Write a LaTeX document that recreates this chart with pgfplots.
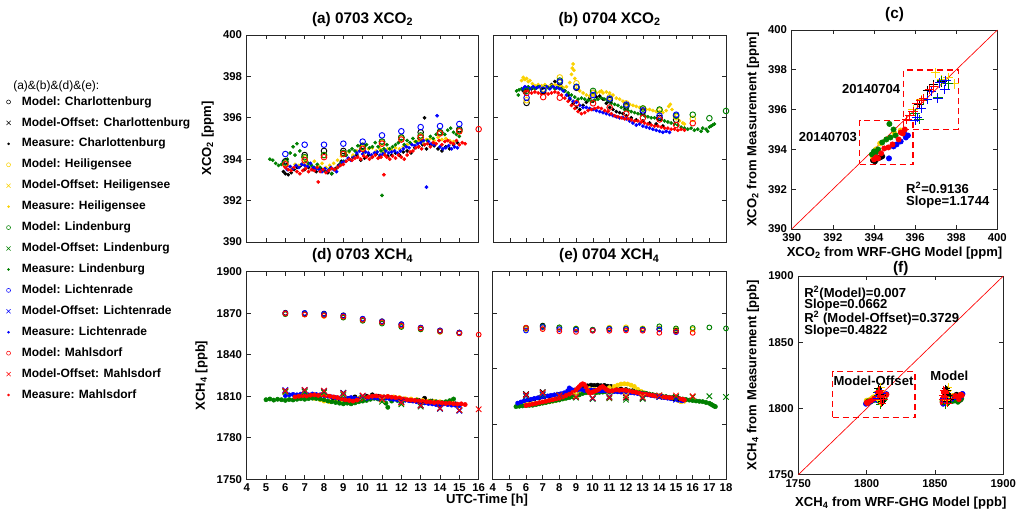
\documentclass[border=0pt]{standalone}
\usepackage{fontspec}
\setmainfont{Liberation Sans}
\usepackage{pgfplots}
\pgfplotsset{compat=1.18}

\definecolor{cK}{rgb}{0,0,0}
\definecolor{cY}{rgb}{0.98,0.82,0}
\definecolor{cG}{rgb}{0,0.5,0}
\definecolor{cB}{rgb}{0,0,1}
\definecolor{cR}{rgb}{1,0,0}

\newcommand\tickfont{\fontsize{8.5}{10}\selectfont\bfseries}
\newcommand\labfont{\fontsize{9.8}{11}\selectfont\bfseries}
\newcommand\titfont{\fontsize{11.5}{13}\selectfont\bfseries}
\newcommand\legfont{\fontsize{9}{10}\selectfont\bfseries}

\pgfplotsset{
  panel/.style={scale only axis, clip=false,
    axis line style={black!85, line width=0.6pt},
    tick style={black!85, line width=0.5pt},
    tick align=inside, major tick length=3.2pt,
    ticklabel style={font=\tickfont},
    /pgf/number format/assume math mode=true,
    /pgf/number format/1000 sep={},
    scaled ticks=false,
    title style={font=\titfont, yshift=-3pt},
    label style={font=\labfont}},
  meas/.style={only marks, mark=*, mark size=1.2pt, color=#1, forget plot},
  mod/.style={only marks, mark=o, mark size=2.1pt, mark options={line width=0.7pt}, color=#1, forget plot},
  off/.style={only marks, mark=x, mark size=2.9pt, mark options={line width=0.7pt}, color=#1, forget plot},
  dotc/.style={only marks, mark=*, mark size=2pt, color=#1, forget plot},
  plus/.style={only marks, mark=+, mark size=3.6pt, mark options={line width=0.7pt}, color=#1, forget plot},
  dbox/.style={draw=cR, line width=1pt, dash pattern=on 4.5pt off 3pt, forget plot},
}

\begin{document}
\begin{tikzpicture}
\path[use as bounding box] (0,0) rectangle (762pt,383.25pt);

% ---------------- (a) 0703 XCO2 ----------------
\begin{axis}[panel, at={(185pt,201.75pt)}, anchor=south west,
  width=174pt, height=155.25pt,
  xmin=4, xmax=16, ymin=390, ymax=400,
  xtick={4,5,...,16}, xticklabels={},
  ytick={390,392,...,400},
  ylabel={XCO\textsubscript{2} [ppm]},
  title={(a) 0703 XCO\textsubscript{2}},
  legend image code/.code={\path[draw=none, fill=none] (0pt,-2pt) rectangle (9pt,2pt); \draw[#1] plot coordinates {(4.5pt,0pt)};},
  legend cell align=left,
  legend style={draw=none, fill=none, inner sep=0pt, at={(-1.0534,0.7116)}, anchor=north west,
    font=\legfont, row sep=5.2pt, column sep=4.5pt,
    nodes={inner sep=1pt, text height=6.6pt, text depth=1.9pt}},
]
\addlegendimage{mark=o, mark size=1.5pt, cK}\addlegendentry{Model: Charlottenburg}
\addlegendimage{mark=x, mark size=2.2pt, cK}\addlegendentry{Model-Offset: Charlottenburg}
\addlegendimage{mark=*, mark size=0.75pt, cK}\addlegendentry{Measure: Charlottenburg}
\addlegendimage{mark=o, mark size=1.5pt, cY}\addlegendentry{Model: Heiligensee}
\addlegendimage{mark=x, mark size=2.2pt, cY}\addlegendentry{Model-Offset: Heiligensee}
\addlegendimage{mark=*, mark size=0.75pt, cY}\addlegendentry{Measure: Heiligensee}
\addlegendimage{mark=o, mark size=1.5pt, cG}\addlegendentry{Model: Lindenburg}
\addlegendimage{mark=x, mark size=2.2pt, cG}\addlegendentry{Model-Offset: Lindenburg}
\addlegendimage{mark=*, mark size=0.75pt, cG}\addlegendentry{Measure: Lindenburg}
\addlegendimage{mark=o, mark size=1.5pt, cB}\addlegendentry{Model: Lichtenrade}
\addlegendimage{mark=x, mark size=2.2pt, cB}\addlegendentry{Model-Offset: Lichtenrade}
\addlegendimage{mark=*, mark size=0.75pt, cB}\addlegendentry{Measure: Lichtenrade}
\addlegendimage{mark=o, mark size=1.5pt, cR}\addlegendentry{Model: Mahlsdorf}
\addlegendimage{mark=x, mark size=2.2pt, cR}\addlegendentry{Model-Offset: Mahlsdorf}
\addlegendimage{mark=*, mark size=0.75pt, cR}\addlegendentry{Measure: Mahlsdorf}

\addplot[meas=cK] coordinates {(5.9,393.4)(6.0,393.3)(6.15,393.25)(6.3,393.35)(6.45,393.5)(6.6,393.6)(6.8,393.7)(7.0,393.5)(7.2,393.6)(7.4,393.5)(7.6,393.4)(7.8,393.55)(8.0,393.45)(8.2,393.35)(8.4,393.3)(8.6,393.55)(8.75,393.7)(8.9,393.9)(9.1,394.2)(9.3,394.0)(9.5,394.1)(9.7,394.2)(9.9,393.95)(10.1,394.05)(10.3,394.2)(10.5,394.1)(10.7,394.25)(10.9,394.15)(11.1,394.3)(11.3,394.15)(11.5,394.2)(11.7,394.3)(11.9,394.2)(12.1,394.35)(12.3,394.4)(12.5,394.3)(12.7,394.55)(12.9,394.6)(13.1,394.7)(13.2,396.0)(13.3,394.5)(13.5,394.7)(13.7,394.65)(13.9,394.5)(14.1,394.4)(14.3,394.6)(14.5,394.5)(14.7,394.7)(14.9,394.8)};
\addplot[meas=cY] coordinates {(6.1,393.7)(6.3,393.6)(6.5,393.75)(6.7,393.7)(6.9,393.8)(7.1,393.7)(7.3,393.75)(7.5,393.9)(7.7,393.7)(7.9,393.8)(8.1,393.6)(8.3,393.7)(8.5,393.8)(8.7,393.95)(8.9,394.15)(9.1,394.3)(9.3,394.35)(9.5,394.2)(9.7,394.4)(9.9,394.45)(10.1,394.3)(10.3,394.5)(10.5,394.55)(10.7,394.4)(10.9,394.5)(11.1,394.4)(11.3,394.5)(11.5,394.45)(11.7,394.55)(11.9,394.5)(12.1,394.6)(12.3,394.7)(12.5,394.75)(12.7,394.85)(12.9,394.9)(13.1,394.8)(13.3,394.95)(13.5,395.0)(13.7,394.9)(13.9,395.05)(14.1,394.95)(14.3,395.0)(14.5,394.9)(14.7,394.85)};
\addplot[meas=cG] coordinates {(5.2,394.0)(5.35,393.95)(5.5,393.8)(5.65,393.7)(5.8,393.75)(5.95,393.9)(6.1,394.0)(6.25,394.3)(6.4,394.6)(6.5,394.2)(6.6,394.75)(6.75,394.4)(6.9,394.1)(7.05,393.9)(7.2,393.8)(7.35,393.7)(7.5,393.6)(7.65,393.75)(7.8,393.6)(7.95,393.5)(8.1,393.4)(8.25,393.5)(8.4,393.3)(8.55,393.5)(8.7,393.6)(8.85,393.8)(9.0,393.9)(9.15,394.2)(9.3,394.4)(9.45,394.5)(9.6,394.4)(9.75,394.65)(9.9,394.5)(10.05,394.4)(10.2,394.7)(10.35,394.55)(10.5,394.6)(10.65,394.8)(10.8,394.6)(10.95,394.4)(11.0,392.25)(11.1,394.5)(11.25,394.7)(11.4,394.5)(11.55,394.6)(11.7,394.7)(11.85,394.8)(12.0,394.9)(12.15,394.7)(12.3,394.9)(12.45,394.8)(12.6,395.0)(12.75,394.85)(12.9,395.0)(13.05,394.9)(13.2,394.7)(13.35,394.9)(13.5,395.1)(13.65,395.0)(13.8,395.2)(13.95,395.4)(14.1,395.3)(14.25,395.2)(14.4,395.4)(14.55,395.5)(14.7,395.3)(14.85,395.2)(15.0,395.1)};
\addplot[meas=cB] coordinates {(5.9,393.9)(6.0,393.7)(6.1,393.5)(6.25,393.65)(6.4,393.55)(6.55,393.7)(6.7,393.6)(6.85,393.75)(7.0,393.7)(7.15,393.65)(7.3,393.8)(7.45,393.6)(7.6,393.55)(7.75,393.5)(7.9,393.4)(8.05,393.55)(8.2,393.45)(8.35,393.6)(8.5,393.5)(8.65,393.4)(8.8,393.7)(8.95,393.85)(9.1,393.9)(9.25,394.05)(9.4,393.95)(9.55,394.1)(9.7,394.3)(9.85,394.4)(10.0,394.25)(10.15,394.35)(10.3,394.3)(10.45,394.2)(10.6,394.3)(10.75,394.35)(10.9,394.2)(11.05,394.25)(11.2,394.4)(11.35,394.3)(11.5,394.35)(11.65,394.4)(11.8,394.3)(11.95,394.4)(12.1,394.5)(12.25,394.6)(12.4,394.55)(12.55,394.7)(12.7,394.65)(12.85,394.75)(13.0,394.8)(13.15,394.9)(13.3,392.65)(13.4,394.85)(13.55,394.75)(13.7,394.7)(13.85,396.1)(14.0,394.6)(14.15,394.5)(14.3,394.55)(14.45,394.65)(14.6,394.5)(14.75,394.6)(14.9,394.55)};
\addplot[meas=cR] coordinates {(6.0,393.6)(6.15,393.5)(6.3,393.45)(6.45,393.6)(6.6,393.4)(6.75,393.3)(6.9,393.45)(7.05,393.55)(7.2,393.4)(7.35,393.5)(7.5,393.45)(7.65,393.6)(7.7,392.9)(7.8,393.4)(7.95,393.5)(8.1,393.35)(8.25,393.45)(8.4,393.55)(8.55,393.5)(8.7,393.6)(8.85,393.7)(9.0,393.75)(9.15,393.9)(9.3,394.0)(9.45,393.95)(9.6,394.05)(9.75,394.1)(9.9,394.0)(10.05,394.15)(10.2,394.1)(10.35,394.0)(10.5,394.1)(10.65,394.2)(10.8,394.05)(10.95,394.1)(11.1,393.25)(11.15,394.2)(11.25,394.1)(11.4,394.0)(11.55,394.15)(11.7,394.05)(11.85,394.2)(12.0,394.1)(12.15,394.0)(12.3,394.2)(12.45,394.35)(12.6,394.4)(12.75,394.55)(12.9,394.6)(13.05,394.5)(13.2,394.7)(13.35,394.75)(13.5,394.6)(13.65,394.8)(13.8,394.75)(13.95,394.9)(14.1,394.7)(14.25,394.85)(14.4,394.9)(14.55,394.8)(14.7,394.75)(14.85,394.9)(15.0,394.7)(15.15,394.8)(15.3,394.75)};
\addplot[mod=cK] coordinates {(6,393.9)(7,394.2)(8,394.4)(9,394.4)(10,394.65)(11,394.85)(12,395.05)(13,395.3)(14,395.3)(15,395.45)};
\addplot[mod=cY] coordinates {(6,393.8)(7,394.05)(8,394.2)(9,394.3)(10,394.55)(11,394.8)(12,395.0)(13,395.1)(14,395.25)(15,395.35)};
\addplot[mod=cG] coordinates {(6,393.85)(7,394.1)(8,394.2)(9,394.3)(10,394.6)(11,394.85)(12,395.05)(13,395.15)(14,395.3)(15,395.4)};
\addplot[mod=cB] coordinates {(6,394.25)(7,394.7)(8,394.7)(9,394.75)(10,394.85)(11,395.15)(12,395.35)(13,395.55)(14,395.6)(15,395.7)};
\addplot[mod=cR] coordinates {(6,393.75)(7,393.95)(8,394.1)(9,394.25)(10,394.5)(11,394.75)(12,394.95)(13,395.05)(14,395.25)(15,395.35)(16,395.45)};
\end{axis}

% ---------------- (b) 0704 XCO2 ----------------
\begin{axis}[panel, at={(370pt,201.75pt)}, anchor=south west,
  width=174.5pt, height=155.25pt,
  xmin=4, xmax=18, ymin=390, ymax=400,
  xtick={4,5,...,18}, xticklabels={},
  ytick={390,392,...,400}, yticklabels={},
  title={(b) 0704 XCO\textsubscript{2}},
]
\addplot[meas=cK] coordinates {(5.8,397.3)(5.9,397.2)(6.0,397.35)(6.3,397.4)(6.6,397.45)(6.9,397.4)(7.2,397.5)(7.5,397.6)(7.7,397.75)(7.9,397.6)(8.1,397.5)(8.3,397.3)(8.5,397.1)(8.6,396.9)(8.8,396.7)(9.0,396.5)(9.2,396.4)(9.4,396.6)(9.6,396.75)(9.8,396.95)(10.0,396.8)(10.2,397.0)(10.4,397.05)(10.6,396.9)(10.8,396.7)(11.0,396.5)(11.2,396.4)(11.4,396.3)(11.6,396.25)(11.8,396.2)(12.0,396.1)(12.3,396.0)(12.6,395.9)(13.0,395.85)(13.4,395.75)(13.8,395.7)(14.2,395.6)};
\addplot[meas=cY] coordinates {(5.7,397.8)(5.8,397.95)(5.9,397.85)(6.0,397.9)(6.1,397.75)(6.2,397.8)(6.35,397.65)(6.5,397.55)(6.7,397.6)(6.9,397.55)(7.1,397.6)(7.3,397.5)(7.5,397.55)(7.7,397.6)(7.9,397.6)(8.05,397.55)(8.2,397.45)(8.4,397.5)(8.6,397.7)(8.7,398.1)(8.75,398.4)(8.8,398.6)(8.85,398.3)(8.9,397.9)(9.0,397.4)(9.2,397.3)(9.4,397.2)(9.6,397.1)(9.8,397.05)(10.0,397.1)(10.2,397.2)(10.4,397.25)(10.5,397.3)(10.6,397.2)(10.8,397.25)(11.0,397.2)(11.2,397.1)(11.4,396.95)(11.6,396.9)(11.8,396.8)(12.0,396.7)(12.2,396.65)(12.4,396.6)(12.6,396.55)(12.8,396.5)(13.0,396.45)(13.2,396.4)(13.4,396.4)(13.6,396.35)(13.8,396.3)(14.0,396.3)(14.2,396.25)(14.4,396.35)(14.55,396.55)(14.65,396.65)(14.75,396.4)(14.9,396.1)(15.0,395.95)(15.2,395.85)(15.4,395.75)(15.5,395.7)};
\addplot[meas=cG] coordinates {(5.4,397.3)(5.5,397.1)(5.55,397.35)(5.7,397.4)(5.9,397.45)(6.1,397.5)(6.3,397.45)(6.5,397.4)(6.7,397.5)(6.9,397.45)(7.1,397.5)(7.3,397.45)(7.5,397.5)(7.7,397.4)(7.9,397.45)(8.1,397.4)(8.3,397.3)(8.5,397.2)(8.7,397.1)(8.9,397.0)(9.1,396.9)(9.3,396.95)(9.5,396.9)(9.7,396.85)(9.9,396.8)(10.1,396.85)(10.3,396.9)(10.5,396.95)(10.7,396.9)(10.9,396.8)(11.1,396.7)(11.3,396.65)(11.5,396.6)(11.7,396.5)(11.9,396.4)(12.1,396.35)(12.3,396.3)(12.5,396.25)(12.7,396.2)(12.9,396.15)(13.1,396.1)(13.3,396.05)(13.5,396.0)(13.7,396.0)(13.9,395.95)(14.1,395.9)(14.3,395.85)(14.5,395.8)(14.7,395.75)(14.9,395.7)(15.1,395.65)(15.3,395.55)(15.5,395.5)(15.7,395.45)(15.9,395.5)(16.1,395.4)(16.3,395.45)(16.5,395.35)(16.6,395.5)(16.8,395.45)(16.9,395.35)(17.0,395.55)(17.1,395.6)(17.2,395.65)(17.3,395.7)};
\addplot[meas=cB] coordinates {(5.8,397.4)(5.9,397.5)(6.0,397.45)(6.2,397.4)(6.4,397.5)(6.6,397.45)(6.8,397.5)(7.0,397.45)(7.2,397.5)(7.4,397.4)(7.6,397.5)(7.8,397.45)(8.0,397.4)(8.2,397.3)(8.4,397.1)(8.6,396.95)(8.8,396.8)(9.0,396.75)(9.2,396.6)(9.4,396.5)(9.6,396.5)(9.8,396.45)(10.0,396.4)(10.2,396.35)(10.4,396.3)(10.6,396.25)(10.8,396.2)(11.0,396.15)(11.2,396.1)(11.4,396.05)(11.6,396.0)(11.8,396.0)(12.0,395.95)(12.2,395.85)(12.4,395.75)(12.6,395.65)(12.8,395.7)(13.0,395.6)(13.2,395.55)(13.4,395.5)(13.6,395.45)(13.8,395.4)(14.0,395.35)(14.2,395.3)(14.4,395.35)(14.6,395.3)};
\addplot[meas=cR] coordinates {(5.9,397.25)(6.1,397.3)(6.3,397.2)(6.5,397.25)(6.7,397.2)(6.9,397.15)(7.1,397.2)(7.3,397.15)(7.5,397.2)(7.7,397.25)(7.9,397.2)(8.1,397.1)(8.3,396.95)(8.5,396.8)(8.7,396.6)(8.9,396.45)(9.1,396.3)(9.3,396.2)(9.5,396.25)(9.7,396.35)(9.9,396.4)(10.1,396.45)(10.3,396.5)(10.5,396.45)(10.7,396.35)(10.9,396.3)(11.1,396.2)(11.3,396.1)(11.5,396.05)(11.7,396.0)(11.9,395.95)(12.1,395.95)(12.3,395.9)(12.5,395.85)(12.7,395.85)(12.9,395.8)(13.1,395.75)(13.3,395.7)(13.5,395.65)(13.7,395.6)(13.9,395.6)(14.1,395.55)(14.3,395.5)(14.5,395.5)(14.7,395.45)(14.9,395.45)(15.1,395.4)(15.3,395.45)(15.5,395.4)};
\addplot[mod=cK] coordinates {(6,396.72)(7,397.3)(8,397.72)(9,397.45)(10,397.2)(11,396.85)(12,396.55)(13,396.3)(14,396.0)(15,395.9)};
\addplot[mod=cY] coordinates {(6,396.85)(7,397.4)(8,397.95)(9,397.67)(10,397.2)(11,397.0)(12,396.7)(13,396.45)(14,396.35)(15,396.05)(16,395.95)};
\addplot[mod=cG] coordinates {(6,397.3)(7,397.35)(8,397.8)(9,397.5)(10,397.3)(11,396.9)(12,396.6)(13,396.45)(14,396.4)(15,396.1)(16,396.15)(17,395.98)(18,396.33)};
\addplot[mod=cB] coordinates {(6,396.97)(7,397.35)(8,397.75)(9,397.48)(10,397.1)(11,396.93)(12,396.64)(13,396.36)(14,396.1)(15,396.15)};
\addplot[mod=cR] coordinates {(6,397.2)(7,397.0)(8,396.97)(9,396.7)(10,396.7)(11,396.5)(12,396.2)(13,396.0)(14,395.92)(15,395.65)(16,395.74)};
\end{axis}

% ---------------- (d) 0703 XCH4 ----------------
\begin{axis}[panel, at={(185pt,23.8pt)}, anchor=south west,
  width=174pt, height=155.7pt,
  xmin=4, xmax=16, ymin=1750, ymax=1900,
  xtick={4,5,...,16},
  ytick={1750,1780,...,1900},
  ylabel={XCH\textsubscript{4} [ppb]},
  title={(d) 0703 XCH\textsubscript{4}},
]
\addplot[meas=cK, mark size=1.6pt] coordinates {(8.5,1808)(8.8,1807)(9.0,1806)(9.3,1808.5)(9.6,1809.5)(9.9,1809)(10.2,1810)(10.5,1811)(10.8,1810)(11.1,1809.5)(11.5,1809)(12.0,1808)(12.5,1807.5)(12.9,1807)(13.2,1808.5)(13.6,1806.5)(14.0,1805.5)(14.4,1805)(14.8,1804.5)};
\addplot[meas=cY, mark size=1.6pt] coordinates {(7.5,1808.5)(7.8,1807.5)(8.0,1806.5)(8.3,1806)(8.6,1806.2)(8.9,1806.8)(9.2,1807.5)(9.5,1808)(9.8,1808.5)(10.1,1808.5)(10.4,1809.5)(10.7,1809)(11.0,1809.5)(11.3,1809.8)(11.6,1809.5)(11.9,1809)(12.2,1808.2)(12.5,1808)(12.8,1807.5)(13.1,1807)(13.4,1806.5)(13.7,1806.2)(14.0,1806)(14.3,1805.8)(14.6,1806.3)};
\addplot[meas=cG, mark size=1.6pt] coordinates {(5.0,1807.5)(5.2,1808)(5.4,1807.2)(5.6,1807.8)(5.8,1807.5)(6.0,1807)(6.2,1807.6)(6.4,1807.3)(6.6,1807.8)(6.8,1808.2)(7.0,1807.8)(7.2,1808.3)(7.4,1808.6)(7.6,1808.4)(7.8,1808.0)(8.0,1807.5)(8.2,1806.5)(8.4,1806)(8.6,1805.5)(8.8,1805)(9.0,1804.5)(9.2,1805)(9.4,1804.5)(9.6,1805.2)(9.8,1806)(10.0,1806.5)(10.2,1807)(10.4,1807.8)(10.6,1808.5)(10.8,1808)(11.0,1807)(11.2,1805)(11.3,1802)(11.5,1806.5)(11.8,1807)(12.0,1806)(12.2,1807.3)(12.5,1806.8)(12.8,1807.2)(13.0,1806)(13.2,1805.5)(13.5,1806.5)(13.8,1806)(14.1,1805.5)(14.3,1806)(14.5,1806.8)(14.7,1808)};
\addplot[meas=cB, mark size=1.6pt] coordinates {(6.0,1810.5)(6.2,1811)(6.4,1811.3)(6.6,1811)(6.8,1811.5)(7.0,1811.2)(7.2,1811)(7.4,1811.6)(7.6,1811.2)(7.8,1811)(8.0,1810.6)(8.2,1810)(8.4,1809.5)(8.6,1809)(8.8,1808.5)(9.0,1808)(9.2,1808.5)(9.4,1809)(9.6,1808.5)(9.8,1808)(10.0,1809)(10.2,1808.5)(10.4,1809.2)(10.6,1809)(10.8,1808.6)(11.0,1808.2)(11.2,1808.6)(11.4,1808.2)(11.6,1807.8)(11.8,1807.5)(12.0,1807)(12.2,1807.2)(12.4,1806.8)(12.6,1806.5)(12.8,1806)(13.0,1805.8)(13.2,1805.2)(13.4,1804.8)(13.6,1804.5)(13.8,1804)(14.0,1803.8)(14.2,1804.5)(14.4,1804)(14.6,1803.6)(14.8,1803.5)(15.0,1803.2)};
\addplot[meas=cR, mark size=1.6pt] coordinates {(6.5,1809.5)(6.7,1810)(6.9,1810.5)(7.1,1810.2)(7.3,1810.8)(7.5,1811)(7.7,1810.6)(7.9,1811)(8.1,1810.5)(8.3,1810)(8.5,1809.5)(8.7,1809)(8.9,1808.2)(9.1,1807.5)(9.3,1807)(9.5,1806.5)(9.7,1807.2)(9.9,1808)(10.1,1808.8)(10.3,1809.5)(10.5,1810)(10.7,1810.2)(10.9,1809.8)(11.1,1809.5)(11.3,1809.8)(11.5,1809.3)(11.7,1809)(11.9,1808.6)(12.1,1808)(12.3,1807.5)(12.5,1807.2)(12.7,1807)(12.9,1806.6)(13.1,1806.2)(13.3,1806)(13.5,1805.8)(13.7,1805.4)(13.9,1805.6)(14.1,1805.2)(14.3,1804.8)(14.5,1805)(14.7,1804.6)(14.9,1804.3)(15.1,1804.5)(15.3,1804)};
\addplot[mod=cK, mark size=1.8pt] coordinates {(6,1870.3)(7,1870)(8,1869.7)(9,1868.5)(10,1865.8)(11,1864.2)(12,1862)(13,1859.5)(14,1857.5)(15,1856)};
\addplot[mod=cY, mark size=1.8pt] coordinates {(6,1869.5)(7,1869)(8,1868)(9,1867)(10,1865)(11,1863)(12,1860.5)(13,1858.5)(14,1856.5)(15,1855.5)};
\addplot[mod=cG, mark size=1.8pt] coordinates {(6,1869.3)(7,1869.3)(8,1868.8)(9,1866.8)(10,1864.5)(11,1862.5)(12,1860)(13,1858.3)(14,1856.8)(15,1855.5)};
\addplot[mod=cB, mark size=1.8pt] coordinates {(6,1870)(7,1870.2)(8,1869.5)(9,1868.2)(10,1866)(11,1864)(12,1862)(13,1859.5)(14,1857.5)(15,1856)};
\addplot[mod=cR, mark size=1.8pt] coordinates {(6,1869.8)(7,1869)(8,1868.3)(9,1867.5)(10,1865.2)(11,1863.5)(12,1861)(13,1859)(14,1857)(15,1855.5)(16,1854.5)};
\addplot[off=cK] coordinates {(6,1814)(7,1814)(8,1813.5)(9,1812.5)(10,1810)(11,1808)(12,1806)(13,1803.5)(14,1801.5)(15,1800)};
\addplot[off=cY] coordinates {(6,1813)(7,1813.5)(8,1812.5)(9,1811.5)(10,1809.5)(11,1807.5)(12,1805)(13,1803)(14,1801)(15,1800)};
\addplot[off=cG] coordinates {(6,1813.2)(7,1813.2)(8,1812.8)(9,1810.8)(10,1808.5)(11,1806)(12,1804.2)(13,1802.5)(14,1801)(15,1799.8)};
\addplot[off=cB] coordinates {(6,1814.5)(7,1814.5)(8,1813.8)(9,1812.2)(10,1810)(11,1808)(12,1805.8)(13,1803.3)(14,1801)(15,1799.5)};
\addplot[off=cR] coordinates {(6,1814)(7,1814.6)(8,1814)(9,1812)(10,1810.5)(11,1808)(12,1805.5)(13,1803.3)(14,1801.3)(15,1800)(16,1800.6)};
\end{axis}

% ---------------- (e) 0704 XCH4 ----------------
\begin{axis}[panel, at={(369.5pt,23.8pt)}, anchor=south west,
  width=175pt, height=155.7pt,
  xmin=4, xmax=18, ymin=1750, ymax=1900,
  xtick={4,5,...,18},
  ytick={1750,1790,1830,1870}, yticklabels={},
  title={(e) 0704 XCH\textsubscript{4}},
]
\addplot[meas=cK, mark size=1.6pt] coordinates {(5.6,1804.5)(5.9,1806)(6.2,1807)(6.5,1808)(6.8,1809)(7.1,1809.5)(7.4,1810)(7.7,1810.8)(8.0,1811.4)(8.3,1812)(8.6,1813)(8.9,1814)(9.2,1815)(9.5,1816.5)(9.7,1817.5)(9.9,1818)(10.1,1817.8)(10.3,1818)(10.5,1817.6)(10.7,1817.8)(10.9,1817.2)(11.1,1817)(11.4,1816)(11.7,1815.2)(12.0,1814.8)(12.4,1814)(12.8,1813)(13.2,1812)(13.6,1811)(14.0,1810.2)(14.4,1809.6)(14.8,1809)(15.1,1808.3)};
\addplot[meas=cY, mark size=1.6pt] coordinates {(5.6,1803)(5.8,1803.6)(6.0,1804)(6.2,1804.2)(6.4,1804.5)(6.6,1804.6)(6.8,1805)(7.0,1805.2)(7.2,1805.6)(7.4,1806)(7.6,1806.5)(7.8,1807)(8.0,1807.5)(8.3,1808.5)(8.6,1810)(8.9,1811.5)(9.2,1813)(9.5,1814.5)(9.8,1815.5)(10.1,1815)(10.4,1815.2)(10.7,1815.8)(11.0,1816.2)(11.3,1817)(11.5,1818)(11.7,1818.8)(11.9,1819)(12.1,1818.8)(12.3,1818)(12.5,1817)(12.7,1815)(12.9,1813.5)(13.1,1812.5)(13.4,1811.6)(13.7,1810.8)(14.0,1810)(14.3,1809.5)(14.6,1808.8)(14.9,1808)(15.1,1807)(15.3,1806)(15.5,1806.4)};
\addplot[meas=cG, mark size=1.6pt] coordinates {(5.4,1802.5)(5.6,1802.8)(5.8,1803)(6.0,1803.2)(6.2,1803.4)(6.4,1803.5)(6.6,1804)(6.8,1804.5)(7.0,1805)(7.2,1805.5)(7.4,1806)(7.6,1806.5)(7.8,1807)(8.0,1807.3)(8.2,1808)(8.4,1808.5)(8.6,1809)(8.8,1809.5)(9.0,1810)(9.2,1811)(9.4,1812)(9.6,1812.5)(9.8,1813)(10.0,1812.8)(10.2,1812.5)(10.4,1812.8)(10.6,1813)(10.8,1813.2)(11.0,1813)(11.2,1813.5)(11.4,1813.8)(11.6,1814)(11.8,1814.2)(12.0,1814.4)(12.2,1814)(12.4,1813.5)(12.6,1813)(12.8,1812.6)(13.0,1812.4)(13.2,1812)(13.4,1811.5)(13.6,1811)(13.8,1810.5)(14.0,1810)(14.2,1809.8)(14.4,1809.5)(14.6,1809.2)(14.8,1809)(15.0,1808.6)(15.2,1808.3)(15.4,1808)(15.6,1807.6)(15.8,1807.2)(16.0,1806.9)(16.2,1806.6)(16.4,1806.3)(16.6,1806.1)(16.8,1805.5)(17.0,1804.9)(17.1,1804.2)(17.2,1803.5)(17.3,1802.8)(17.36,1802.5)};
\addplot[meas=cB, mark size=1.6pt] coordinates {(5.5,1805)(5.7,1805.8)(5.9,1806.8)(6.1,1807.4)(6.3,1807.8)(6.5,1808.4)(6.7,1808.8)(6.9,1809.4)(7.1,1809.8)(7.3,1810.2)(7.5,1810.6)(7.7,1811)(7.9,1811.4)(8.1,1811.8)(8.3,1812.5)(8.5,1814)(8.6,1816)(8.7,1815)(8.9,1814.5)(9.1,1814.5)(9.3,1815)(9.5,1814.2)(9.7,1814)(9.9,1814.5)(10.1,1814.3)(10.3,1814)(10.5,1813.8)(10.7,1814)(10.9,1813.7)(11.1,1813.6)(11.3,1813.4)(11.5,1813.2)(11.7,1813)(11.9,1812.8)(12.1,1812.6)(12.3,1812.5)(12.5,1812.3)(12.7,1812)(12.9,1811.8)(13.1,1811.5)(13.3,1811)(13.5,1810.6)(13.7,1810.2)(13.9,1809.8)(14.1,1809.4)(14.3,1809)(14.5,1808.6)(14.7,1808.2)(14.9,1807.8)(15.1,1807.4)(15.3,1807)(15.4,1806.8)};
\addplot[meas=cR, mark size=1.6pt] coordinates {(6.0,1803.3)(6.2,1803.8)(6.4,1804.3)(6.6,1804.8)(6.8,1805.4)(7.0,1805.9)(7.2,1806.4)(7.4,1807)(7.6,1807.5)(7.8,1808.1)(8.0,1808.6)(8.2,1809.5)(8.4,1810.5)(8.6,1811.5)(8.8,1812.8)(9.0,1814.5)(9.1,1815.8)(9.2,1817)(9.3,1818.3)(9.4,1819)(9.5,1818.5)(9.6,1816.5)(9.7,1814)(9.8,1812.4)(9.9,1812.6)(10.0,1813)(10.1,1813.5)(10.2,1814)(10.3,1814.5)(10.4,1815.5)(10.5,1816.5)(10.6,1817)(10.7,1816)(10.8,1815)(10.9,1814.2)(11.0,1813.7)(11.2,1814)(11.4,1814.6)(11.6,1814.3)(11.8,1814.5)(12.0,1814.2)(12.2,1813.8)(12.4,1813.2)(12.6,1812.8)(12.8,1812.2)(13.0,1811.6)(13.2,1811.4)(13.4,1811)(13.6,1810.6)(13.8,1810.2)(14.0,1809.6)(14.2,1809.5)(14.4,1809.2)(14.6,1809)(14.8,1808.8)(15.0,1808.6)(15.2,1808.2)(15.4,1807.8)(15.5,1807.3)};
\addplot[mod=cK, mark size=1.8pt] coordinates {(6,1859)(7,1861)(8,1859.5)(9,1858.5)(10,1858)(11,1859)(12,1858.8)(13,1858.5)(14,1858.5)(15,1857.5)};
\addplot[mod=cY, mark size=1.8pt] coordinates {(6,1858.5)(7,1859.5)(8,1859.3)(9,1859)(10,1857.8)(11,1859.5)(12,1859.8)(13,1859)(14,1859)(15,1858.5)(16,1858.3)};
\addplot[mod=cG, mark size=1.8pt] coordinates {(6,1859.5)(7,1860.5)(8,1859.8)(9,1858.8)(10,1858)(11,1858.8)(12,1858.8)(13,1858.5)(14,1860.5)(15,1859)(16,1859.3)(17,1859.7)(18,1859)};
\addplot[mod=cB, mark size=1.8pt] coordinates {(6,1857.5)(7,1860)(8,1858.5)(9,1858)(10,1857.5)(11,1858.5)(12,1858.5)(13,1858)(14,1858.3)(15,1856.3)};
\addplot[mod=cR, mark size=1.8pt] coordinates {(6,1859.5)(7,1858.5)(8,1857)(9,1856.5)(10,1857.3)(11,1857.3)(12,1857.5)(13,1857.3)(14,1855.8)(15,1856.8)(16,1855.8)};
\addplot[off=cK] coordinates {(6,1811.5)(7,1813)(8,1811)(9,1810)(10,1808.5)(11,1809.5)(12,1809)(13,1808.5)(14,1809.5)(15,1808.5)};
\addplot[off=cY] coordinates {(6,1810.5)(7,1812)(8,1811)(9,1810.5)(10,1808.5)(11,1810)(12,1810.5)(13,1809.5)(14,1810)(15,1809.5)(16,1809.5)};
\addplot[off=cG] coordinates {(6,1810)(7,1811)(8,1810.5)(9,1809)(10,1808)(11,1808.5)(12,1807.5)(13,1808)(14,1810.5)(15,1809.5)(16,1809.5)(17,1810)(18,1809.5)};
\addplot[off=cB] coordinates {(6,1810.5)(7,1811.5)(8,1811)(9,1809.5)(10,1808.5)(11,1809.5)(12,1809.5)(13,1809)(14,1809.5)(15,1807.5)};
\addplot[off=cR] coordinates {(6,1811)(7,1812.5)(8,1810.5)(9,1809.5)(10,1808.8)(11,1809)(12,1809.5)(13,1809)(14,1810.5)(15,1810.5)(16,1810)};
\end{axis}

% ---------------- (c) XCO2 scatter ----------------
\begin{axis}[panel, at={(593.8pt,211.5pt)}, anchor=south west,
  width=154.2pt, height=149.25pt,
  xmin=390, xmax=400, ymin=390, ymax=400,
  xtick={390,392,...,400}, ytick={390,392,...,400},
  xlabel={XCO\textsubscript{2} from WRF-GHG Model [ppm]},
  xlabel style={yshift=3pt},
  ylabel={XCO\textsubscript{2} from Measurement [ppm]},
  title={(c)},
]
\addplot[cR, line width=0.5pt, forget plot] coordinates {(390,390) (400,400)};
\addplot[dotc=cK] coordinates {(393.95,393.45)(394.1,393.5)(394.3,393.6)(394.4,393.65)(394.2,393.55)(394.05,393.4)};
\addplot[dotc=cY] coordinates {(394.3,394.3)(394.6,394.5)(395.0,394.8)(395.3,394.95)(394.1,394.0)(393.95,393.6)(394.2,393.95)};
\addplot[dotc=cG] coordinates {(394.75,395.28)(394.95,395.0)(394.6,394.5)(394.4,394.35)(394.2,394.0)(394.0,393.9)(393.9,393.75)(394.1,393.85)(394.8,394.6)(395.05,394.7)};
\addplot[dotc=cB] coordinates {(394.73,393.55)(395.3,394.4)(395.55,394.6)(395.65,394.7)(395.1,394.25)(394.95,394.15)(395.45,394.85)};
\addplot[dotc=cR] coordinates {(394.0,393.5)(394.1,393.6)(394.2,393.55)(394.5,394.05)(394.7,394.1)(394.9,394.25)(395.2,394.5)(395.4,394.8)(395.5,395.0)(395.3,394.85)(394.35,393.8)};
\addplot[plus=cK] coordinates {(396.9,397.25)(397.3,397.4)(396.6,396.95)(396.2,396.25)(395.9,396.0)};
\addplot[plus=cY] coordinates {(397.0,397.85)(397.6,397.6)(397.9,397.3)(396.3,396.5)(396.7,397.0)(395.9,396.0)(397.3,397.5)};
\addplot[plus=cG] coordinates {(397.1,396.6)(397.6,397.3)(396.9,397.15)(396.4,396.45)(396.2,395.5)(396.0,395.8)(397.3,397.45)};
\addplot[plus=cB] coordinates {(397.5,397.45)(397.45,397.0)(397.1,396.55)(396.6,396.5)(396.3,396.05)(396.1,395.6)(396.0,395.45)(397.2,397.35)(396.8,396.9)};
\addplot[plus=cR] coordinates {(395.6,395.5)(395.9,395.9)(396.1,396.3)(396.4,396.55)(396.7,397.0)(396.9,397.15)(396.3,396.45)(395.75,395.7)};
\addplot[dbox] coordinates {(393.3,393.25)(395.9,393.25)(395.9,395.45)(393.3,395.45)(393.3,393.25)};
\addplot[dbox] coordinates {(395.43,395.0)(398.1,395.0)(398.1,397.99)(395.43,397.99)(395.43,395.0)};
\node[anchor=east, font=\labfont, inner sep=1pt] at (axis cs:395.35,397.02) {20140704};
\node[anchor=east, font=\labfont, inner sep=1pt] at (axis cs:393.25,394.6) {20140703};
\node[anchor=west, font=\labfont, inner sep=0pt] at (axis cs:395.55,392.05) {R\textsuperscript{2}=0.9136};
\node[anchor=west, font=\labfont, inner sep=0pt] at (axis cs:395.55,391.37) {Slope=1.1744};
\end{axis}

% ---------------- (f) XCH4 scatter ----------------
\begin{axis}[panel, at={(598.7pt,27.2pt)}, anchor=south west,
  width=153.75pt, height=149pt,
  xmin=1750, xmax=1900, ymin=1750, ymax=1900,
  xtick={1750,1800,...,1900}, ytick={1750,1800,...,1900},
  xlabel={XCH\textsubscript{4} from WRF-GHG Model [ppb]},
  ylabel={XCH\textsubscript{4} from Measurement [ppb]},
  title={(f)}, title style={yshift=-6pt},
]
\addplot[cR, line width=0.5pt, forget plot] coordinates {(1750,1750) (1900,1900)};
\addplot[dotc=cK, mark size=1.9pt] coordinates {(1856,1805)(1857.5,1805.5)(1859.5,1807)(1862,1808)(1864.2,1809.5)(1865.8,1810.5)(1868.5,1806.5)};
\addplot[dotc=cY, mark size=1.9pt] coordinates {(1855.5,1806)(1856.5,1806)(1858.5,1807)(1860.5,1808.5)(1863,1809.5)(1865,1808.5)(1867,1807)(1868,1807.5)};
\addplot[dotc=cG, mark size=1.9pt] coordinates {(1855.5,1805.5)(1856.8,1805)(1858.3,1806)(1860,1806.5)(1862.5,1805.5)(1864.5,1806)(1866.8,1805)(1868.8,1807)(1869.3,1807.5)};
\addplot[dotc=cB, mark size=1.9pt] coordinates {(1856,1803.5)(1857.5,1804)(1859.5,1805.5)(1862,1807)(1864,1808.5)(1866,1808.5)(1868.2,1808)(1869.5,1810)(1870,1811)(1870.2,1811)};
\addplot[dotc=cR, mark size=1.9pt] coordinates {(1855.5,1804.5)(1857,1805)(1859,1806)(1861,1807.5)(1863.5,1809)(1865.2,1809.5)(1867.5,1807)(1868.3,1810)(1869,1810.5)(1869.8,1810)};
\addplot[dotc=cK, mark size=1.9pt] coordinates {(1800,1805)(1801.5,1805.5)(1803.5,1807)(1806,1808)(1808,1809.5)(1810,1810.5)(1812.5,1806.5)};
\addplot[dotc=cY, mark size=1.9pt] coordinates {(1800,1806)(1801,1806)(1803,1807)(1805,1808.5)(1807.5,1809.5)(1809.5,1808.5)(1811.5,1807)(1812.5,1807.5)};
\addplot[dotc=cG, mark size=1.9pt] coordinates {(1799.8,1804)(1801,1805.5)(1802.5,1805)(1804.2,1806)(1806,1806.5)(1808.5,1806)(1810.8,1805)(1812.8,1807)(1813.2,1807.5)};
\addplot[dotc=cB, mark size=1.9pt] coordinates {(1799.5,1803.5)(1801,1804)(1803.3,1805.5)(1805.8,1807)(1808,1808.5)(1810,1808.5)(1812.2,1808)(1813.8,1810)(1814.5,1811)};
\addplot[dotc=cR, mark size=1.9pt] coordinates {(1800,1804.5)(1801.3,1805)(1803.3,1806)(1805.5,1807.5)(1808,1809)(1810.5,1809.5)(1812,1807)(1814,1810)(1814.6,1810.5)(1800.6,1804)};
\addplot[plus=cG, mark size=3pt] coordinates {(1858,1803)(1858.8,1806)(1859,1809)(1858.5,1811)(1860.5,1810)(1859.3,1806.5)(1859.7,1805)(1859,1804)(1858.8,1812.5)(1858.5,1808)};
\addplot[plus=cB, mark size=3pt] coordinates {(1857.5,1805)(1860,1808)(1858.5,1811.5)(1858,1814)(1857.5,1812)(1858.5,1813)(1858,1811)(1858.3,1810)(1856.3,1807.5)};
\addplot[plus=cY, mark size=3pt] coordinates {(1858.5,1805)(1859.5,1806.5)(1859.3,1808.5)(1859,1814)(1857.8,1813)(1859.5,1813.5)(1859.8,1816)(1859,1812.5)(1858.5,1808)(1858.3,1806)};
\addplot[plus=cK, mark size=3pt] coordinates {(1859,1805)(1861,1807)(1859.5,1809.5)(1858.5,1814)(1858,1815)(1859,1813.5)(1858.8,1811.5)(1858.5,1810.5)};
\addplot[plus=cR, mark size=3pt] coordinates {(1859.5,1804)(1858.5,1806.5)(1857,1809)(1856.5,1814)(1857.3,1812.5)(1857.3,1813)(1857.5,1812)(1857.3,1811)(1855.8,1809.5)(1856.8,1808.5)(1855.8,1806.5)};
\addplot[plus=cG, mark size=3pt] coordinates {(1810,1803)(1811,1806)(1810.5,1809)(1809,1811)(1808,1812.5)(1808.5,1813)(1807.5,1812)(1808,1810)(1809.5,1807)(1809.5,1806)(1810,1805)};
\addplot[plus=cB, mark size=3pt] coordinates {(1810.5,1805)(1811.5,1808)(1811,1811.5)(1809.5,1814)(1808.5,1812)(1809.5,1813)(1809.5,1811)(1809,1810)(1807.5,1807.5)};
\addplot[plus=cY, mark size=3pt] coordinates {(1810.5,1805)(1812,1806.5)(1811,1808.5)(1810.5,1814)(1808.5,1813)(1810,1813.5)(1810.5,1816)(1809.5,1812.5)(1810,1808)(1809.5,1806)};
\addplot[plus=cK, mark size=3pt] coordinates {(1811.5,1805)(1813,1807)(1811,1809.5)(1810,1814)(1808.5,1815)(1809.5,1813.5)(1809,1811.5)(1809.5,1810.5)};
\addplot[plus=cR, mark size=3pt] coordinates {(1811,1804)(1812.5,1806.5)(1810.5,1809)(1809.5,1814)(1808.8,1812.5)(1809,1813)(1809.5,1812)(1809,1811)(1810.5,1809.5)(1810.5,1808.5)(1810,1806.5)};
\addplot[dbox] coordinates {(1775.2,1793)(1835.4,1793)(1835.4,1827.7)(1775.2,1827.7)(1775.2,1793)};
\node[font=\labfont, inner sep=0pt] at (axis cs:1805,1820.7) {Model-Offset};
\node[font=\labfont, inner sep=0pt] at (axis cs:1860.5,1824.5) {Model};
\node[anchor=west, font=\labfont, inner sep=0pt] at (axis cs:1754.2,1887.4) {R\textsuperscript{2}(Model)=0.007};
\node[anchor=west, font=\labfont, inner sep=0pt] at (axis cs:1754.2,1877.8) {Slope=0.0662};
\node[anchor=west, font=\labfont, inner sep=0pt] at (axis cs:1754.2,1868.2) {R\textsuperscript{2} (Model-Offset)=0.3729};
\node[anchor=west, font=\labfont, inner sep=0pt] at (axis cs:1754.2,1858.6) {Slope=0.4822};
\end{axis}

\node[anchor=west, inner sep=0pt, font=\fontsize{9}{10}\selectfont] at (9.75pt,318.75pt) {(a)\&(b)\&(d)\&(e):};
\node[font=\labfont, inner sep=0pt] at (365.25pt,8.25pt) {UTC-Time [h]};
\end{tikzpicture}
\end{document}
